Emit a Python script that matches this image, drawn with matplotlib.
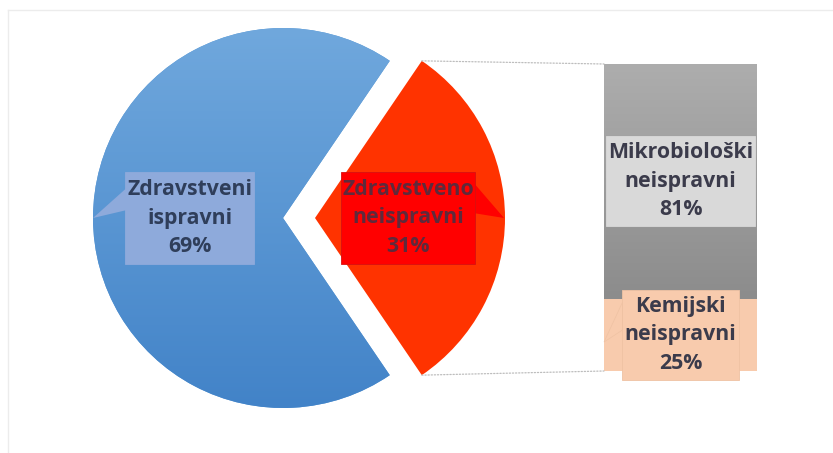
import numpy as np
import matplotlib
matplotlib.use("Agg")
import matplotlib.pyplot as plt
from matplotlib.colors import LinearSegmentedColormap
from matplotlib.patches import Polygon, Rectangle, ConnectionPatch
from matplotlib.lines import Line2D

# data
pie_labels = ["Zdravstveni\nispravni", "Zdravstveno\nneispravni"]
pie_values = [69, 31]
bar_labels = ["Kemijski\nneispravni", "Mikrobiološki\nneispravni"]
bar_values = [25, 81]

W, H = 833, 453
FONT = "Open Sans"
FS = 15.3
LS = 1.46


def fill_gradient(axx, patch, top, bottom, x0, x1, y0, y1):
    """Paint a vertical gradient inside a patch."""
    cmap = LinearSegmentedColormap.from_list("g", [bottom, top])
    grad = np.linspace(0, 1, 256).reshape(-1, 1)
    im = axx.imshow(grad, cmap=cmap, extent=(x0, x1, y0, y1), origin="lower",
                    aspect="auto", zorder=patch.get_zorder(), interpolation="bilinear")
    im.set_clip_path(patch)


def label_box(axx, txt, renderer, fc, ec, padx=5, pady=6, lw=0.6):
    bb = txt.get_window_extent(renderer)
    box = (bb.x0 - padx, bb.y0 - pady, bb.x1 + padx, bb.y1 + pady)
    inv = axx.transData.inverted()
    (x0, y0), (x1, y1) = inv.transform([[box[0], box[1]], [box[2], box[3]]])
    axx.add_patch(Rectangle((x0, y0), x1 - x0, y1 - y0, fc=fc, ec=ec, lw=lw,
                            zorder=txt.get_zorder() - 0.5, clip_on=False))
    return box


fig = plt.figure(figsize=(W / 100, H / 100), dpi=100)
fig.patch.set_facecolor("white")
ax = fig.add_axes([0, 0, 1, 1])

start = 180 - 360 * pie_values[0] / sum(pie_values) / 2
radius = 190
wedges, _ = ax.pie(pie_values, colors=["#5a9ad6", "#ff3300"], startangle=start,
                   center=(283, 235), radius=radius, explode=[0, 32],
                   frame=True, wedgeprops=dict(lw=0))
ax.set_xlim(0, W)
ax.set_ylim(0, H)
ax.set_aspect("auto")
ax.axis("off")

# blue slice gradient
cx, cy = wedges[0].center
fill_gradient(ax, wedges[0], "#70a8dd", "#4283c8", cx - radius, cx + radius, cy - radius, cy + radius)
ax.set_xlim(0, W)
ax.set_ylim(0, H)

# bar of pie
bax = fig.add_axes([604 / W, (H - 371) / H, 153 / W, 307 / H])
bax.set_xlim(-0.5, 0.5)
bax.set_ylim(0, sum(bar_values))
bax.axis("off")
b0 = bax.bar(0, bar_values[0], width=1, color="#f8cbad", lw=0)[0]
b1 = bax.bar(0, bar_values[1], bottom=bar_values[0], width=1, color="#9e9e9e", lw=0)[0]
fill_gradient(bax, b1, "#adadad", "#8c8c8c", -0.5, 0.5, bar_values[0], sum(bar_values))
bax.set_xlim(-0.5, 0.5)
bax.set_ylim(0, sum(bar_values))

# connector lines from the red slice to the bar
red = wedges[1]
rcx, rcy = red.center
for ang, yb in [(red.theta2, 1), (red.theta1, 0)]:
    p = (rcx + red.r * np.cos(np.radians(ang)), rcy + red.r * np.sin(np.radians(ang)))
    con = ConnectionPatch(xyA=p, coordsA=ax.transData, xyB=(0, yb), coordsB=bax.transAxes,
                          linestyle=(0, (1, 1.5)), color="#bdbdbd", lw=0.9)
    fig.add_artist(con)

# pie labels
txt_style = dict(ha="center", va="center", ma="center", fontsize=FS, fontweight="bold",
                 family=FONT, linespacing=LS, zorder=6)
pie_txt = []
for w, lab, v, col in zip(wedges, pie_labels, pie_values, ["#2f3e5a", "#5e2a3c"]):
    mid = np.radians((w.theta1 + w.theta2) / 2)
    x = w.center[0] + 0.49 * w.r * np.cos(mid)
    y = w.center[1] + 0.49 * w.r * np.sin(mid)
    pie_txt.append(ax.text(x, y, f"{lab}\n{v}%", color=col, **txt_style))

bar_txt = []
bottoms = np.cumsum([0] + bar_values[:-1])
for lab, v, b in zip(bar_labels, bar_values, bottoms):
    bar_txt.append(bax.text(0, b + v / 2, f"{lab}\n{v}%", color="#3b3b4b", clip_on=False, **txt_style))

fig.canvas.draw()
rend = fig.canvas.get_renderer()

# blue label with callout
bx = label_box(ax, pie_txt[0], rend, "#8eaadb", "#8eaadb", padx=2, pady=7)
mid = np.radians((wedges[0].theta1 + wedges[0].theta2) / 2)
tip = (wedges[0].center[0] + radius * np.cos(mid), wedges[0].center[1] + radius * np.sin(mid))
ax.add_patch(Polygon([(bx[0] + 1, bx[3] - 16), tip, (bx[0] + 1, bx[3] - 38)],
                     fc="#8eaadb", ec="none", zorder=5))

# red label with callout
rx = label_box(ax, pie_txt[1], rend, "#ff0000", "#d81010", padx=1, pady=7)
mid = np.radians((red.theta1 + red.theta2) / 2)
tip = (red.center[0] + radius * np.cos(mid) - 1, red.center[1] + radius * np.sin(mid))
ax.add_patch(Polygon([(rx[2] - 1, rx[3] - 11), tip, (rx[2] - 1, rx[3] - 41)],
                     fc="#ff0000", ec="none", zorder=5))

# bar labels
label_box(bax, bar_txt[1], rend, "#d9d9d9", "#d9d9d9", padx=2, pady=6)
kx = label_box(bax, bar_txt[0], rend, "#f8cbad", "#efc2a3", padx=3, pady=6)
inv = bax.transData.inverted()
tip_disp = bax.transData.transform((-0.5, bar_values[0] * 0.4))
pts = inv.transform([(kx[0] + 1, kx[3] - 12), tip_disp, (kx[0] + 1, kx[3] - 40)])
bax.add_patch(Polygon(pts, fc="#f8cbad", ec="#efc2a3", lw=0.5, zorder=5, clip_on=False))

# faint chart frame
fig.add_artist(Line2D([8 / W, 1], [1 - 10 / H, 1 - 10 / H], color="#ececec", lw=1))
fig.add_artist(Line2D([8 / W, 8 / W], [0, 1 - 10 / H], color="#ececec", lw=1))

fig.savefig("out.png", dpi=100, facecolor="white")
